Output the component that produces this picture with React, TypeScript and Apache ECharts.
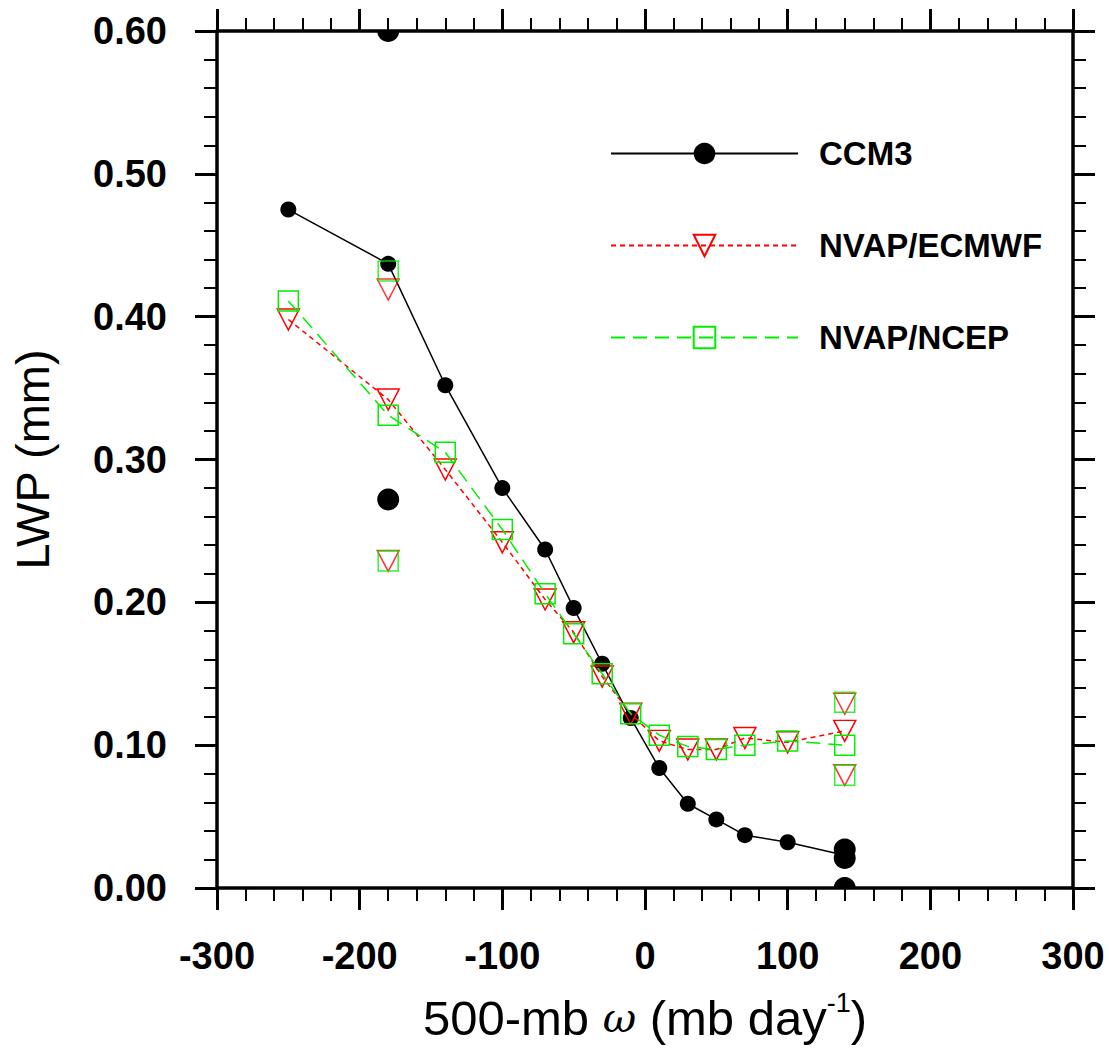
import React, { useEffect, useRef } from "react";
import * as echarts from "echarts";

const omega = [-250, -180, -140, -100, -70, -50, -30, -10, 10, 30, 50, 70, 100, 140];
const ccm3 = [0.475, 0.437, 0.352, 0.28, 0.237, 0.196, 0.157, 0.119, 0.084, 0.059, 0.048, 0.037, 0.032, 0.023];
const ecmwf = [0.398, 0.342, 0.293, 0.242, 0.202, 0.179, 0.148, 0.122, 0.103, 0.097, 0.097, 0.105, 0.102, 0.11];
const ncep = [0.411, 0.331, 0.305, 0.251, 0.206, 0.178, 0.15, 0.122, 0.107, 0.099, 0.097, 0.1, 0.103, 0.1];

// extra (unconnected) markers
const ccm3ExtraX = [-180, -180, 140, 140, 140];
const ccm3ExtraY = [0.6, 0.272, 0.027, 0.021, 0.0];
const ecmwfExtraX = [-180, -180, 140, 140];
const ecmwfExtraY = [0.419, 0.229, 0.129, 0.079];
const ncepExtraX = [-180, -180, 140, 140];
const ncepExtraY = [0.432, 0.229, 0.13, 0.079];

const xTicks = { min: -300, max: 300, interval: 100 };
const yTicks = { min: 0, max: 0.6, interval: 0.1 };

const FONT = "'Liberation Sans', Arial, Helvetica, sans-serif";

const zip = (xs: number[], ys: number[]) => xs.map((x, i) => [x, ys[i]]);

export default function App() {
  const ref = useRef<HTMLDivElement>(null);
  useEffect(() => {
    document.body.style.margin = "0";
    const chart = echarts.init(ref.current!, undefined, { renderer: "svg" });
    const axisCommon = {
      axisLine: { show: true, onZero: false, lineStyle: { color: "#000", width: 3.5 } },
      axisTick: { show: true, inside: false, length: 22, lineStyle: { color: "#000", width: 3 } },
      minorTick: { show: true, splitNumber: 5, length: 13, lineStyle: { color: "#000", width: 2 } },
      splitLine: { show: false },
      minorSplitLine: { show: false },
    };
    chart.setOption({
      animation: false,
      backgroundColor: "#fff",
      grid: { left: 217, right: 36, top: 31, bottom: 165, containLabel: false },
      legend: {
        data: ["CCM3", "NVAP/ECMWF", "NVAP/NCEP"],
        orient: "vertical",
        left: 610,
        top: 137,
        padding: 0,
        itemWidth: 187,
        itemHeight: 27,
        itemGap: 59,
        selectedMode: false,
        textStyle: {
          fontFamily: FONT,
          fontWeight: "bold",
          fontSize: 33,
          color: "#000",
          lineHeight: 33,
          padding: [0, 0, 0, 16],
        },
      },
      xAxis: [
        {
          type: "value",
          position: "bottom",
          ...xTicks,
          ...axisCommon,
          axisLabel: {
            show: true,
            margin: 49,
            fontFamily: FONT,
            fontWeight: "bold",
            fontSize: 38,
            color: "#000",
          },
          name: "{n|500-mb }{o|\u03c9}{n| (mb day}{s|-1}{n|)}",
          nameLocation: "middle",
          nameGap: 101,
          nameTextStyle: {
            fontFamily: FONT,
            fontSize: 49,
            color: "#000",
            rich: {
              n: { fontFamily: FONT, fontSize: 49, lineHeight: 58, color: "#000" },
              o: {
                fontFamily: "'DejaVu Serif', 'Liberation Serif', serif",
                fontStyle: "italic",
                fontSize: 41,
                lineHeight: 58,
                color: "#000",
              },
              s: { fontFamily: FONT, fontSize: 27, lineHeight: 30, verticalAlign: "top", color: "#000" },
            },
          },
        },
        {
          type: "value",
          position: "top",
          ...xTicks,
          ...axisCommon,
          axisLabel: { show: false },
        },
      ],
      yAxis: [
        {
          type: "value",
          position: "left",
          ...yTicks,
          ...axisCommon,
          axisLabel: {
            show: true,
            margin: 50,
            formatter: (v: number) => v.toFixed(2),
            fontFamily: FONT,
            fontWeight: "bold",
            fontSize: 38,
            color: "#000",
          },
          name: "LWP (mm)",
          nameLocation: "middle",
          nameGap: 161,
          nameTextStyle: { fontFamily: FONT, fontSize: 47, color: "#000" },
        },
        {
          type: "value",
          position: "right",
          ...yTicks,
          ...axisCommon,
          axisLabel: { show: false },
        },
      ],
      series: [
        {
          name: "CCM3",
          type: "line",
          data: zip(omega, ccm3),
          symbol: "circle",
          symbolSize: 16,
          itemStyle: { color: "#000" },
          lineStyle: { color: "#000", width: 1.5, type: "solid" },
          z: 2,
        },
        {
          name: "CCM3 extra",
          type: "custom",
          clip: true,
          data: zip(ccm3ExtraX, ccm3ExtraY),
          renderItem: (params: any, api: any) => {
            const p = api.coord([api.value(0), api.value(1)]);
            const cs = params.coordSys;
            return {
              type: "circle",
              x: p[0],
              y: p[1],
              shape: { cx: 0, cy: 0, r: 11 },
              style: { fill: "#000" },
              clipPath: {
                type: "rect",
                shape: { x: cs.x - p[0], y: cs.y - p[1], width: cs.width, height: cs.height },
              },
            };
          },
          z: 2,
        },
        {
          name: "NVAP/ECMWF",
          type: "line",
          data: zip(omega, ecmwf),
          symbol: "triangle",
          symbolRotate: 180,
          symbolSize: [22, 21],
          itemStyle: { color: "rgba(0,0,0,0)", borderColor: "#ff0000", borderWidth: 1.5 },
          lineStyle: { color: "#ff0000", width: 1.5, type: [5, 4] },
          z: 3,
        },
        {
          name: "NVAP/ECMWF extra",
          type: "scatter",
          data: zip(ecmwfExtraX, ecmwfExtraY),
          symbol: "triangle",
          symbolRotate: 180,
          symbolSize: [22, 21],
          itemStyle: { color: "rgba(0,0,0,0)", borderColor: "#ff0000", borderWidth: 1.5 },
          z: 3,
        },
        {
          name: "NVAP/NCEP",
          type: "line",
          data: zip(omega, ncep),
          symbol: "rect",
          symbolSize: 20,
          itemStyle: { color: "rgba(0,0,0,0)", borderColor: "#00ee00", borderWidth: 1.5 },
          lineStyle: { color: "#00ee00", width: 1.5, type: [14, 8] },
          z: 4,
        },
        {
          name: "NVAP/NCEP extra",
          type: "scatter",
          data: zip(ncepExtraX, ncepExtraY),
          symbol: "rect",
          symbolSize: 20,
          itemStyle: { color: "rgba(0,0,0,0)", borderColor: "#00ee00", borderWidth: 1.5 },
          z: 4,
        },
      ],
    });
    return () => chart.dispose();
  }, []);
  return <div ref={ref} style={{ position: "absolute", left: 0, top: 0, width: 1109, height: 1053 }} />;
}
